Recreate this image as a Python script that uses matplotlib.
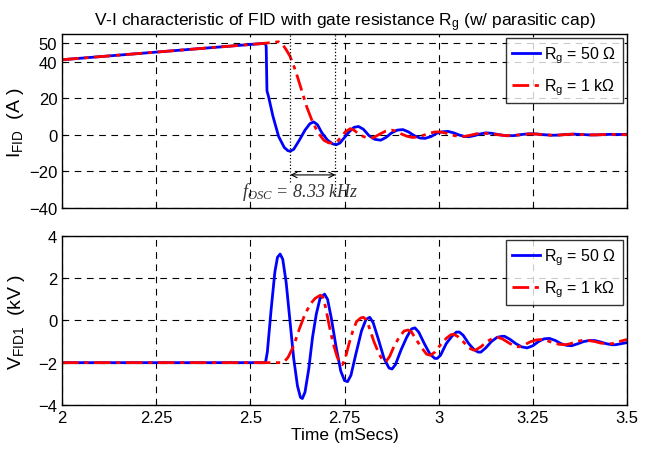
import matplotlib
matplotlib.use("Agg")
import matplotlib.pyplot as plt

plt.rcParams['font.family'] = ['Liberation Sans Narrow', 'Liberation Sans', 'DejaVu Sans']
plt.rcParams['mathtext.default'] = 'regular'

# ---- data ----
t_i50 = [2.0, 2.54, 2.542, 2.544, 2.548, 2.56, 2.575, 2.59, 2.6, 2.606, 2.615, 2.63, 2.645, 2.658, 2.668,
         2.678, 2.69, 2.705, 2.718, 2.728, 2.738, 2.75, 2.762, 2.775, 2.787, 2.8, 2.815, 2.83, 2.846, 2.86,
         2.875, 2.89, 2.905, 2.92, 2.935, 2.95, 2.964, 2.98, 2.995, 3.01, 3.025, 3.04, 3.055, 3.07, 3.08,
         3.095, 3.11, 3.125, 3.14, 3.16, 3.18, 3.2, 3.22, 3.24, 3.26, 3.28, 3.3, 3.32, 3.34, 3.36, 3.38,
         3.4, 3.42, 3.44, 3.46, 3.48, 3.5]
i_50 = [41, 50, 48, 24, 21, 10, -1, -7, -8.8, -9, -8, -3, 2.5, 6, 7,
        5.5, 1, -3, -5, -5.5, -4.5, -1.5, 1.5, 4, 4.5, 3, -0.5, -2.5, -3, -1.5,
        1, 2.5, 2.8, 1.5, -0.5, -1.8, -2, -1, 0.8, 1.6, 1.8, 1, -0.2, -1, -1.1,
        -0.5, 0.4, 1, 0.8, 0, -0.6, -0.5, 0.1, 0.5, 0.4, 0, -0.3, -0.2, 0.2, 0.3, 0.1,
        -0.1, -0.1, 0.1, 0.2, 0.1, 0.2]

t_i1k = [2.0, 2.54, 2.56, 2.575, 2.585, 2.595, 2.605, 2.62, 2.635, 2.65, 2.665, 2.68, 2.695, 2.708, 2.72,
         2.73, 2.74, 2.752, 2.765, 2.775, 2.787, 2.8, 2.815, 2.828, 2.845, 2.86, 2.875, 2.887, 2.9, 2.915,
         2.93, 2.944, 2.96, 2.975, 2.99, 3.005, 3.02, 3.035, 3.05, 3.066, 3.08, 3.1, 3.12, 3.14, 3.16,
         3.18, 3.2, 3.22, 3.24, 3.26, 3.28, 3.3, 3.32, 3.34, 3.36, 3.38, 3.4, 3.42, 3.44, 3.46, 3.48, 3.5]
i_1k = [41, 50, 50.5, 50.8, 49.5, 46.5, 43, 35, 25, 15, 7, 1, -3, -4.5, -4.5,
        -4, -1.5, 1.5, 3.3, 2.5, 0.5, -1, -2, -1.5, 0.5, 2, 2.5, 2, 0.5, -0.8,
        -1.5, -1.3, -0.3, 0.8, 1.5, 1.5, 0.8, -0.2, -0.8, -1, -0.5, 0.5, 0.8, 0.5, -0.1,
        -0.5, -0.4, 0, 0.4, 0.3, 0, -0.3, -0.2, 0.1, 0.3, 0.1, -0.1, -0.1, 0.1, 0.2, 0, 0]

t_v50 = [2.0, 2.54, 2.545, 2.555, 2.565, 2.572, 2.579, 2.586, 2.595, 2.605, 2.615, 2.625, 2.633, 2.638, 2.645,
         2.655, 2.665, 2.675, 2.685, 2.697, 2.705, 2.715, 2.728, 2.74, 2.75, 2.758, 2.767, 2.78, 2.795, 2.807,
         2.817, 2.826, 2.84, 2.855, 2.868, 2.876, 2.885, 2.9, 2.915, 2.928, 2.937, 2.947, 2.962, 2.977, 2.99,
         2.996, 3.005, 3.02, 3.035, 3.047, 3.055, 3.065, 3.08, 3.095, 3.105, 3.112, 3.125, 3.14, 3.155, 3.168,
         3.175, 3.19, 3.205, 3.22, 3.235, 3.25, 3.265, 3.28, 3.294, 3.31, 3.325, 3.34, 3.353, 3.37, 3.385,
         3.4, 3.414, 3.43, 3.445, 3.46, 3.47, 3.485, 3.5]
v_50 = [-2, -2, -1.5, 0.5, 2.3, 3.0, 3.15, 2.9, 1.8, 0.0, -1.8, -3.1, -3.65, -3.7, -3.4,
        -2.3, -0.8, 0.3, 1.05, 1.25, 1.0, 0.1, -1.3, -2.4, -2.85, -2.9, -2.6, -1.6, -0.5, 0.05,
        0.15, -0.1, -0.9, -1.8, -2.25, -2.3, -2.1, -1.4, -0.8, -0.4, -0.35, -0.55, -1.1, -1.6, -1.8,
        -1.8, -1.65, -1.1, -0.75, -0.55, -0.55, -0.7, -1.1, -1.4, -1.5, -1.5, -1.3, -1.0, -0.8, -0.75,
        -0.75, -0.9, -1.1, -1.25, -1.3, -1.2, -1.0, -0.87, -0.85, -0.95, -1.1, -1.18, -1.2, -1.1, -1.0,
        -0.95, -0.95, -1.02, -1.1, -1.15, -1.15, -1.1, -1.05]

t_v1k = [2.0, 2.58, 2.59, 2.6, 2.615, 2.63, 2.645, 2.66, 2.672, 2.686, 2.693, 2.7, 2.71, 2.72, 2.73,
         2.738, 2.744, 2.752, 2.762, 2.772, 2.782, 2.793, 2.8, 2.807, 2.815, 2.828, 2.842, 2.852, 2.86, 2.87,
         2.882, 2.895, 2.908, 2.919, 2.928, 2.94, 2.955, 2.968, 2.978, 2.99, 3.005, 3.02, 3.032, 3.039, 3.05,
         3.065, 3.08, 3.092, 3.098, 3.112, 3.128, 3.145, 3.157, 3.17, 3.185, 3.2, 3.213, 3.228, 3.245, 3.26,
         3.275, 3.29, 3.305, 3.32, 3.336, 3.35, 3.365, 3.38, 3.398, 3.415, 3.43, 3.445, 3.46, 3.475, 3.49, 3.5]
v_1k = [-2, -2, -1.95, -1.75, -1.2, -0.4, 0.3, 0.8, 1.05, 1.2, 1.1, 0.6, -0.3, -1.1, -1.7,
        -2.05, -2.1, -1.8, -1.1, -0.5, -0.05, 0.12, 0.15, 0.05, -0.3, -1.0, -1.6, -1.9, -1.95, -1.7,
        -1.2, -0.8, -0.5, -0.45, -0.55, -0.9, -1.3, -1.6, -1.65, -1.5, -1.15, -0.85, -0.68, -0.65, -0.75,
        -1.0, -1.3, -1.4, -1.4, -1.25, -1.0, -0.83, -0.8, -0.88, -1.05, -1.2, -1.25, -1.15, -1.0, -0.92,
        -0.9, -0.97, -1.07, -1.13, -1.15, -1.1, -1.0, -0.95, -0.95, -1.0, -1.07, -1.1, -1.1, -1.02, -0.95, -0.9]

x_ticks = [2, 2.25, 2.5, 2.75, 3, 3.25, 3.5]
x_ticklabels = ['2', '2.25', '2.5', '2.75', '3', '3.25', '3.5']
i_ticks = [-40, -20, 0, 20, 40, 50]
v_ticks = [-4, -2, 0, 2, 4]
osc_marks = [2.606, 2.726]
labels = ['R$_g$ = 50 Ω', 'R$_g$ = 1 kΩ']

# ---- figure ----
fig = plt.figure(figsize=(6.47, 4.56), dpi=100)
ax1 = fig.add_axes([0.096, 0.542, 0.873, 0.381])
ax2 = fig.add_axes([0.096, 0.110, 0.873, 0.370])

red_dash = (0, (6, 2, 1.5, 2))

for ax in (ax1, ax2):
    ax.set_xlim(2, 3.5)
    ax.set_xticks(x_ticks)
    ax.grid(True, color='black', linestyle=(0, (6, 5)), linewidth=0.8)
    ax.tick_params(direction='in', length=3, labelsize=12, width=0.8)
    for s in ax.spines.values():
        s.set_linewidth(1.0)

ax1.plot(t_i50, i_50, color='#0000ff', lw=2, label=labels[0])
ax1.plot(t_i1k, i_1k, color='#ff0000', lw=2, linestyle=red_dash, label=labels[1])
ax1.set_ylim(-40, 55)
ax1.set_yticks(i_ticks)
ax1.set_xticklabels([])
ax1.set_ylabel('I$_{FID}$  (A )', fontsize=14, labelpad=2)
ax1.set_title('V-I characteristic of FID with gate resistance R$_g$ (w/ parasitic cap)', fontsize=12.5, pad=6)

ax1.plot([osc_marks[0]] * 2, [-26, 55], color='black', linestyle=':', lw=0.9)
ax1.plot([osc_marks[1]] * 2, [-33, 55], color='black', linestyle=':', lw=0.9)
ax1.annotate('', xy=(osc_marks[0], -22), xytext=(osc_marks[1], -22),
             arrowprops=dict(arrowstyle='<->', color='black', lw=0.8, shrinkA=0, shrinkB=0))
ax1.text(2.633, -31, '$f_{OSC}$ = 8.33 kHz', family='Liberation Serif', style='italic',
         fontsize=13, color='#333333', ha='center', va='center')

leg_kw = dict(loc='upper right', fontsize=11.5, frameon=True, fancybox=False,
              edgecolor='black', handlelength=1.7, handletextpad=0.3,
              borderaxespad=0.25, labelspacing=0.7, borderpad=0.4)

leg1 = ax1.legend(**leg_kw)
leg1.get_frame().set_linewidth(1.0)

ax2.plot(t_v50, v_50, color='#0000ff', lw=2, label=labels[0])
ax2.plot(t_v1k, v_1k, color='#ff0000', lw=2, linestyle=red_dash, label=labels[1])
ax2.set_ylim(-4, 4)
ax2.set_yticks(v_ticks)
ax2.set_xticklabels(x_ticklabels)
ax2.set_ylabel('V$_{FID1}$  (kV )', fontsize=14, labelpad=8)
ax2.set_xlabel('Time (mSecs)', fontsize=12.5, labelpad=2)
leg2 = ax2.legend(**leg_kw)
leg2.get_frame().set_linewidth(1.0)

fig.savefig('out.png', dpi=100)
